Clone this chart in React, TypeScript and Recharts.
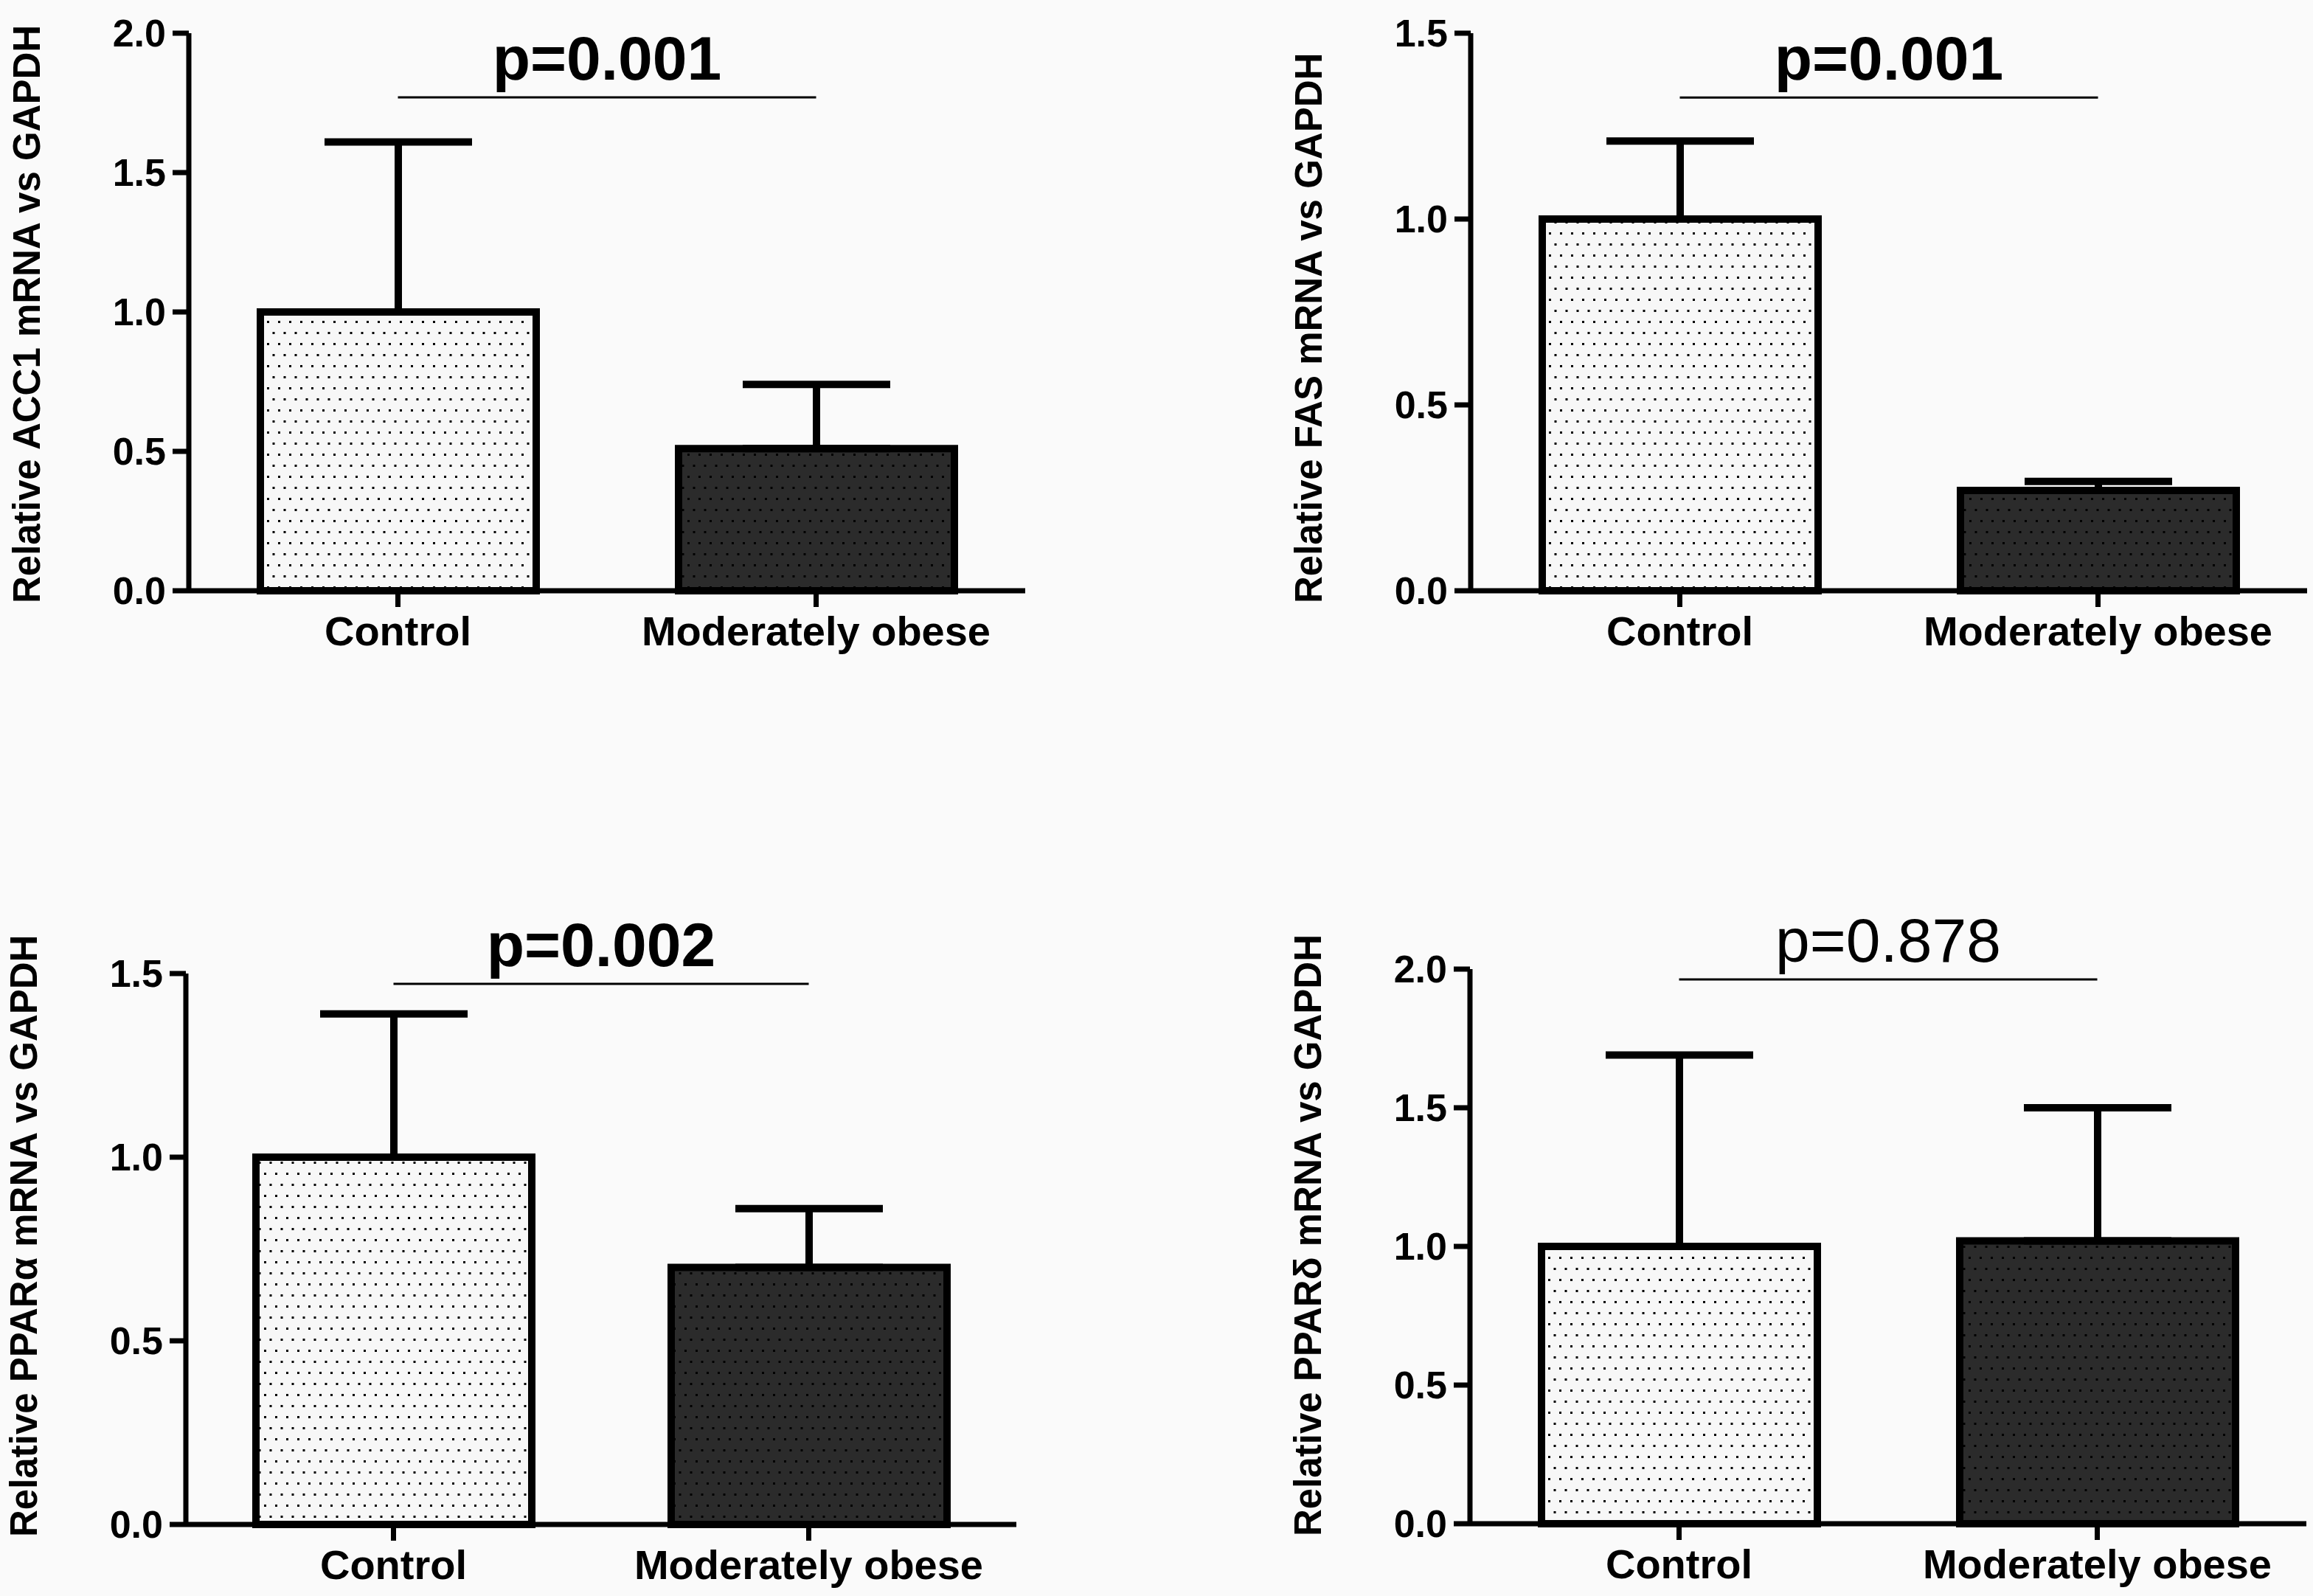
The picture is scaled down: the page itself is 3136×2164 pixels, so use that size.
import React from "react";
import { BarChart, Bar, XAxis, YAxis, Cell, ErrorBar, ReferenceLine } from "recharts";

const categories = ["Control", "Moderately obese"];

const acc1Means = [1.0, 0.51];
const acc1Errors = [0.61, 0.23];
const fasMeans = [1.0, 0.27];
const fasErrors = [0.21, 0.024];
const pparaMeans = [1.0, 0.7];
const pparaErrors = [0.39, 0.16];
const ppardMeans = [1.0, 1.02];
const ppardErrors = [0.69, 0.48];

const ticksTo2 = [0, 0.5, 1.0, 1.5, 2.0];
const ticksTo15 = [0, 0.5, 1.0, 1.5];

const pLabels = ["p=0.001", "p=0.001", "p=0.002", "p=0.878"];
const pLevels = [1.77, 1.327, 1.472, 1.963];

const FONT = "'Liberation Sans', Arial, Helvetica, sans-serif";
const BG = "#fafafa";
const MARGIN_TOP = 120;
const AXIS_W = 254;
const XAXIS_H = 120;

interface PanelProps {
    id: string;
    axisX: number;
    topY: number;
    zeroY: number;
    plotW: number;
    max: number;
    ticks: number[];
    means: number[];
    errors: number[];
    yLabel: string;
    pLabel: string;
    pLevel: number;
    pBold: boolean;
}

function YTitle({ text, plotH }: { text: string; plotH: number }) {
    const x = 52;
    const y = MARGIN_TOP + plotH + 17;
    return (
        <text
            x={x}
            y={y}
            transform={`rotate(-90, ${x}, ${y})`}
            textAnchor="start"
            fontFamily={FONT}
            fontSize={51}
            fontWeight={700}
            fill="#000"
        >
            {text}
        </text>
    );
}

function Panel(p: PanelProps) {
    const plotH = p.zeroY - p.topY;
    const width = AXIS_W + p.plotW + 20;
    const height = MARGIN_TOP + plotH + XAXIS_H;
    const data = categories.map((name, i) => ({
        name,
        mean: p.means[i],
        err: [0, p.errors[i]],
    }));

    return (
        <div style={{ position: "absolute", left: p.axisX - AXIS_W, top: p.topY - MARGIN_TOP }}>
            <BarChart
                width={width}
                height={height}
                data={data}
                margin={{ top: MARGIN_TOP, right: 20, left: 0, bottom: 0 }}
            >
                <defs>
                    <pattern id={`light-${p.id}`} width={15} height={30} patternUnits="userSpaceOnUse">
                        <rect width={15} height={30} fill="#f7f7f7" />
                        <rect x={0} y={0} width={3} height={3} fill="#000" />
                        <rect x={7.5} y={15} width={3} height={3} fill="#000" />
                    </pattern>
                    <pattern id={`dark-${p.id}`} width={15} height={30} patternUnits="userSpaceOnUse">
                        <rect width={15} height={30} fill="#2b2b2b" />
                        <rect x={0} y={0} width={3} height={3} fill="#000" />
                        <rect x={7.5} y={15} width={3} height={3} fill="#000" />
                    </pattern>
                </defs>
                <XAxis
                    dataKey="name"
                    type="category"
                    height={XAXIS_H}
                    interval={0}
                    axisLine={{ stroke: "#000", strokeWidth: 7 }}
                    tickLine={{ stroke: "#000", strokeWidth: 7 }}
                    tickSize={22}
                    tickMargin={12}
                    tick={{ fill: "#000", fontSize: 56, fontWeight: 700, fontFamily: FONT }}
                />
                <YAxis
                    type="number"
                    width={AXIS_W}
                    domain={[0, p.max]}
                    ticks={p.ticks}
                    interval={0}
                    tickFormatter={(v: number) => v.toFixed(1)}
                    axisLine={{ stroke: "#000", strokeWidth: 7 }}
                    tickLine={{ stroke: "#000", strokeWidth: 7 }}
                    tickSize={22}
                    tickMargin={9}
                    tick={{ fill: "#000", fontSize: 52, fontWeight: 700, fontFamily: FONT }}
                    label={<YTitle text={p.yLabel} plotH={plotH} />}
                />
                <ReferenceLine
                    segment={[
                        { x: categories[0], y: p.pLevel },
                        { x: categories[1], y: p.pLevel },
                    ]}
                    stroke="#000"
                    strokeWidth={3}
                    label={{
                        value: p.pLabel,
                        position: "top",
                        offset: 24,
                        fill: "#000",
                        fontSize: 84,
                        fontWeight: p.pBold ? 700 : 400,
                        fontFamily: FONT,
                    }}
                />
                <Bar
                    dataKey="mean"
                    barSize={374}
                    stroke="#000"
                    strokeWidth={10}
                    isAnimationActive={false}
                >
                    {data.map((_, i) => (
                        <Cell key={i} fill={i === 0 ? `url(#light-${p.id})` : `url(#dark-${p.id})`} />
                    ))}
                    <ErrorBar
                        dataKey="err"
                        direction="y"
                        width={100}
                        stroke="#000"
                        strokeWidth={10}
                        isAnimationActive={false}
                    />
                </Bar>
            </BarChart>
        </div>
    );
}

export default function App() {
    return (
        <div
            style={{
                position: "absolute",
                left: 0,
                top: 0,
                width: 3136,
                height: 2164,
                overflow: "hidden",
                backgroundColor: BG,
                fontFamily: FONT,
            }}
        >
            <Panel
                id="acc1"
                axisX={256}
                topY={45}
                zeroY={801}
                plotW={1134}
                max={2}
                ticks={ticksTo2}
                means={acc1Means}
                errors={acc1Errors}
                yLabel="Relative ACC1 mRNA vs GAPDH"
                pLabel={pLabels[0]}
                pLevel={pLevels[0]}
                pBold
            />
            <Panel
                id="fas"
                axisX={1994}
                topY={45}
                zeroY={801}
                plotW={1134}
                max={1.5}
                ticks={ticksTo15}
                means={fasMeans}
                errors={fasErrors}
                yLabel="Relative FAS mRNA vs GAPDH"
                pLabel={pLabels[1]}
                pLevel={pLevels[1]}
                pBold
            />
            <Panel
                id="ppara"
                axisX={252}
                topY={1320}
                zeroY={2067}
                plotW={1126}
                max={1.5}
                ticks={ticksTo15}
                means={pparaMeans}
                errors={pparaErrors}
                yLabel="Relative PPARα mRNA vs GAPDH"
                pLabel={pLabels[2]}
                pLevel={pLevels[2]}
                pBold
            />
            <Panel
                id="ppard"
                axisX={1993}
                topY={1314}
                zeroY={2066}
                plotW={1134}
                max={2}
                ticks={ticksTo2}
                means={ppardMeans}
                errors={ppardErrors}
                yLabel="Relative PPARδ mRNA vs GAPDH"
                pLabel={pLabels[3]}
                pLevel={pLevels[3]}
                pBold={false}
            />
        </div>
    );
}
